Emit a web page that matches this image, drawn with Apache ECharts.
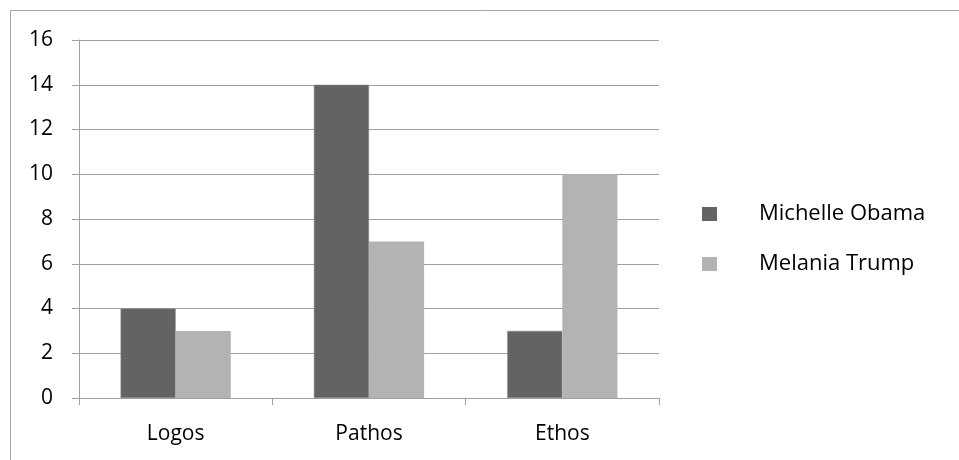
<!DOCTYPE html>
<html><head><meta charset="utf-8">
<script src="https://cdn.jsdelivr.net/npm/echarts@6/dist/echarts.min.js"></script>
<style>html,body{margin:0;padding:0;background:#fff}#c{width:959px;height:460px}</style>
</head><body><div id="c"></div>
<script>
const categories = ['Logos', 'Pathos', 'Ethos'];
const michelle = [4, 14, 3];
const melania = [3, 7, 10];
const yTicks = [0, 16, 2];
const FONT = '"Open Sans", "Liberation Sans", sans-serif';
const chart = echarts.init(document.getElementById('c'), null, {renderer: 'canvas'});
chart.setOption({
  animation: false,
  backgroundColor: '#fff',
  graphic: [{type: 'rect', shape: {x: 10.5, y: 10.5, width: 1000, height: 1000}, style: {fill: 'none', stroke: '#a6a6a6', lineWidth: 1}, silent: true}],
  grid: {left: 79, right: 300, top: 40, bottom: 62, containLabel: false},
  legend: {
    orient: 'vertical', left: 702, top: 202, padding: 0, itemWidth: 15, itemHeight: 14, itemGap: 26,
    icon: 'rect',
    itemStyle: {borderWidth: 0},
    textStyle: {fontFamily: FONT, fontSize: 22, lineHeight: 24, color: '#000', padding: [0, 0, 0, 37]},
    data: ['Michelle Obama', 'Melania Trump']
  },
  xAxis: {
    type: 'category', data: categories,
    axisLine: {lineStyle: {color: '#a0a0a0'}},
    axisTick: {show: true, length: 7, lineStyle: {color: '#a0a0a0'}},
    axisLabel: {fontFamily: FONT, fontSize: 21, color: '#000', margin: 26}
  },
  yAxis: {
    type: 'value', min: yTicks[0], max: yTicks[1], interval: yTicks[2],
    axisLine: {show: true, lineStyle: {color: '#a0a0a0'}},
    axisTick: {show: true, length: 7, inside: false, lineStyle: {color: '#a0a0a0'}},
    splitLine: {lineStyle: {color: '#a0a0a0'}},
    axisLabel: {fontFamily: FONT, fontSize: 21, color: '#000', margin: 26}
  },
  series: [
    {name: 'Michelle Obama', type: 'bar', data: michelle, barGap: '0%', barCategoryGap: '43%',
     itemStyle: {color: '#636363', borderColor: '#8a8a8a', borderWidth: 0.5}},
    {name: 'Melania Trump', type: 'bar', data: melania, barGap: '0%', barCategoryGap: '43%',
     itemStyle: {color: '#b3b3b3'}}
  ]
});
</script></body></html>
